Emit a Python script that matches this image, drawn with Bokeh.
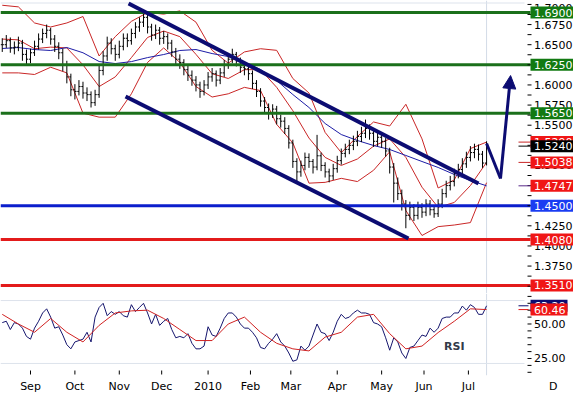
import pandas as pd
from bokeh.plotting import figure
from bokeh.models import (Range1d, FixedTicker, Span, Arrow, NormalHead, ColumnDataSource)
from bokeh.layouts import column
from bokeh.core.properties import value
from bokeh.embed import file_html
from bokeh.resources import INLINE

# ---------------- data (GBP/USD daily, sampled every 2nd business day) ----------------
close = [1.650, 1.655, 1.646, 1.647, 1.652, 1.638, 1.632, 1.640, 1.648, 1.657,
         1.664, 1.668, 1.657, 1.648, 1.640, 1.625, 1.610, 1.594, 1.592, 1.598,
         1.590, 1.588, 1.578, 1.588, 1.618, 1.636, 1.652, 1.645, 1.638, 1.648,
         1.658, 1.655, 1.664, 1.672, 1.678, 1.684, 1.672, 1.662, 1.668, 1.658,
         1.660, 1.652, 1.641, 1.632, 1.628, 1.619, 1.612, 1.606, 1.600, 1.592,
         1.600, 1.610, 1.614, 1.606, 1.615, 1.625, 1.632, 1.638, 1.630, 1.622,
         1.620, 1.614, 1.602, 1.592, 1.580, 1.572, 1.565, 1.570, 1.558, 1.555,
         1.546, 1.528, 1.505, 1.492, 1.500, 1.510, 1.505, 1.498, 1.512, 1.500,
         1.492, 1.487, 1.496, 1.506, 1.515, 1.520, 1.525, 1.530, 1.536, 1.540,
         1.546, 1.540, 1.530, 1.535, 1.530, 1.518, 1.498, 1.478, 1.465, 1.452,
         1.438, 1.448, 1.438, 1.448, 1.442, 1.452, 1.445, 1.440, 1.452, 1.465,
         1.475, 1.480, 1.490, 1.495, 1.502, 1.510, 1.516, 1.520, 1.514, 1.503,
         1.524]
high = [1.658, 1.662, 1.659, 1.654, 1.660, 1.656, 1.644, 1.645, 1.655, 1.664,
        1.670, 1.675, 1.671, 1.662, 1.653, 1.645, 1.630, 1.614, 1.601, 1.606,
        1.604, 1.597, 1.592, 1.594, 1.624, 1.642, 1.660, 1.658, 1.650, 1.655,
        1.664, 1.664, 1.670, 1.678, 1.684, 1.692, 1.688, 1.676, 1.675, 1.672,
        1.667, 1.664, 1.656, 1.646, 1.638, 1.632, 1.624, 1.618, 1.611, 1.604,
        1.606, 1.616, 1.621, 1.618, 1.621, 1.631, 1.638, 1.645, 1.641, 1.634,
        1.628, 1.625, 1.618, 1.606, 1.596, 1.585, 1.577, 1.576, 1.574, 1.563,
        1.560, 1.550, 1.532, 1.509, 1.506, 1.516, 1.515, 1.508, 1.538, 1.516,
        1.504, 1.496, 1.502, 1.512, 1.521, 1.527, 1.532, 1.537, 1.543, 1.548,
        1.557, 1.551, 1.544, 1.542, 1.540, 1.534, 1.522, 1.503, 1.485, 1.470,
        1.457, 1.455, 1.452, 1.455, 1.453, 1.458, 1.457, 1.450, 1.458, 1.471,
        1.481, 1.487, 1.496, 1.502, 1.509, 1.517, 1.524, 1.527, 1.526, 1.518,
        1.530]
low = [1.641, 1.646, 1.640, 1.638, 1.642, 1.630, 1.625, 1.627, 1.636, 1.644,
       1.652, 1.658, 1.650, 1.641, 1.632, 1.617, 1.602, 1.586, 1.582, 1.587,
       1.583, 1.580, 1.572, 1.574, 1.584, 1.612, 1.630, 1.638, 1.630, 1.633,
       1.643, 1.647, 1.650, 1.658, 1.666, 1.672, 1.664, 1.655, 1.657, 1.650,
       1.651, 1.644, 1.635, 1.626, 1.620, 1.612, 1.605, 1.599, 1.592, 1.584,
       1.587, 1.595, 1.604, 1.598, 1.601, 1.610, 1.620, 1.627, 1.623, 1.615,
       1.612, 1.606, 1.595, 1.585, 1.573, 1.565, 1.557, 1.559, 1.551, 1.547,
       1.539, 1.521, 1.497, 1.478, 1.486, 1.494, 1.497, 1.490, 1.494, 1.493,
       1.485, 1.479, 1.482, 1.491, 1.501, 1.510, 1.514, 1.519, 1.524, 1.529,
       1.534, 1.532, 1.523, 1.524, 1.522, 1.511, 1.490, 1.454, 1.457, 1.444,
       1.422, 1.432, 1.431, 1.433, 1.435, 1.437, 1.438, 1.435, 1.436, 1.447,
       1.460, 1.469, 1.474, 1.484, 1.489, 1.497, 1.505, 1.509, 1.506, 1.497,
       1.500]
rsi = [51, 52, 46, 51, 50, 47, 41, 39, 47, 52,
       58, 61, 55, 47, 48, 42, 35, 32, 37, 38,
       39, 44, 37, 55, 62, 65, 56, 59, 57, 59,
       56, 55, 64, 59, 62, 65, 58, 50, 57, 49,
       52, 54, 46, 40, 41, 40, 43, 36, 32, 32,
       34, 48, 42, 41, 47, 54, 58, 58, 55, 50,
       47, 47, 44, 40, 33, 32, 36, 39, 43, 37,
       34, 29, 23, 24, 34, 31, 34, 42, 50, 44,
       43, 38, 44, 52, 57, 54, 55, 58, 60, 58,
       58, 57, 51, 50, 48, 40, 31, 40, 37, 29,
       25, 33, 34, 38, 42, 41, 47, 44, 47, 54,
       55, 55, 58, 58, 63, 60, 64, 62, 57, 57,
       63.2]
# indicator lines read every 8th business day
bb_up = [1.699, 1.697, 1.677, 1.672, 1.677, 1.685, 1.636, 1.660, 1.679, 1.690,
         1.688, 1.692, 1.678, 1.643, 1.627, 1.641, 1.645, 1.643, 1.608, 1.590,
         1.541, 1.516, 1.536, 1.554, 1.549, 1.576, 1.533, 1.472, 1.482, 1.521,
         1.5290]
bb_mid = [1.657, 1.656, 1.645, 1.647, 1.646, 1.625, 1.598, 1.610, 1.634, 1.659,
          1.667, 1.660, 1.638, 1.614, 1.608, 1.619, 1.619, 1.597, 1.568, 1.534,
          1.510, 1.500, 1.508, 1.524, 1.533, 1.510, 1.473, 1.448, 1.454, 1.475,
          1.5038]
bb_low = [1.615, 1.615, 1.613, 1.622, 1.615, 1.565, 1.560, 1.560, 1.589, 1.628,
          1.646, 1.628, 1.598, 1.585, 1.589, 1.597, 1.593, 1.551, 1.528, 1.478,
          1.479, 1.484, 1.480, 1.494, 1.517, 1.444, 1.413, 1.424, 1.426, 1.429,
          1.4786]
ma_long = [1.6453, 1.6465, 1.6440, 1.6428, 1.6465, 1.6400, 1.6291, 1.6266, 1.6290, 1.6340,
           1.6378, 1.6428, 1.6440, 1.6390, 1.6353, 1.6279, 1.6192, 1.6055, 1.5881, 1.5720,
           1.5521, 1.5384, 1.5310, 1.5248, 1.5198, 1.5124, 1.5049, 1.4975, 1.4888, 1.4813,
           1.4747]
rsi_ma = [57, 50, 44, 54, 44, 37, 49, 58, 59.5, 60,
          54, 46, 38, 38, 50, 55, 44, 36, 32, 30.5,
          40.5, 44, 55, 57, 43, 32, 34, 43.8, 52, 61,
          60.46]

month_labels = ["Sep", "Oct", "Nov", "Dec", "2010", "Feb", "Mar", "Apr", "May", "Jun", "Jul"]
period_label = "D"
levels = [1.6900, 1.6250, 1.5650, 1.4500, 1.4080, 1.3510]
level_kind = ["res", "res", "res", "pivot", "sup", "sup"]
price_ticks = [1.350, 1.375, 1.400, 1.425, 1.450, 1.475, 1.500, 1.525,
               1.550, 1.575, 1.600, 1.625, 1.650, 1.675, 1.700]
rsi_ticks = [25, 50]
rsi_minor = [15, 20, 30, 35, 40, 45, 55, 60, 65, 70]

# trend channel and projection (business-day index, price)
chan_up_x, chan_up_y = [62.6, 236.0], [1.7012, 1.4776]
chan_lo_x, chan_lo_y = [61.1, 201.3], [1.5857, 1.4093]
proj_x, proj_y = [240.0, 246.9, 251.9], [1.5273, 1.4838, 1.6117]

# ---------------- styling ----------------
GREEN = "#1b701b"
GREEN_BOX = "#127a12"
RED = "#e31b1b"
RED_BOX = "#f01616"
BLUE = "#0b1ecc"
BLUE_BOX = "#1a3cf2"
NAVY = "#0c0c72"
BAND = "#c92626"
MA_NAVY = "#1c1ca6"
TODAY = "#d3dbe7"
BORDER = "#dde3ec"
FONT = "DejaVu Sans"
FONT_V = value(FONT)
kind_line = {"res": GREEN, "pivot": BLUE, "sup": RED}
kind_box = {"res": GREEN_BOX, "pivot": BLUE_BOX, "sup": RED_BOX}

n = len(close)
bar_x = [2 * i for i in range(n)]
band_x = [bar_x[4 * k] for k in range(len(bb_mid))]
dates = pd.bdate_range("2009-08-12", periods=bar_x[-1] + 1)
month_pos = [i for i in range(1, len(dates)) if dates[i].month != dates[i - 1].month]
opens = close[:1] + close[:-1]

# frame geometry: the frame spans the whole width; right strip holds the price scale
W, PLOT_W = 573, 524
X0, X1 = -0.87, 258.8                 # data area (0 .. 524 px)
PX = PLOT_W / (X1 - X0)               # px per business day
XE = X0 + W / PX                      # right end of frame (573 px)
P_LO, P_HI, P_H = 1.34093, 1.70491, 293
R_LO, R_HI, R_H = 12.68, 72.10, 82


def ax_x(px):
    """x coordinate in the scale strip, px pixels right of the data area"""
    return X1 + px / PX


def base_fig(h, ylo, yhi, x_range):
    f = figure(frame_width=W, frame_height=h, x_range=x_range,
               y_range=Range1d(ylo, yhi), toolbar_location=None, output_backend="svg",
               min_border_left=0, min_border_right=0, min_border_top=0, min_border_bottom=0,
               outline_line_color=None, background_fill_color="white", border_fill_color="white")
    f.grid.visible = False
    return f


def scale_strip(f, ticks, minor, fmt, top_limit):
    allt = sorted(ticks + minor)
    f.segment([ax_x(3)] * len(allt), allt, [ax_x(7)] * len(allt), allt,
              line_color="black", line_width=1)
    f.text([ax_x(9.5)] * len(ticks), [min(t, top_limit) for t in ticks],
           text=[fmt.format(t) for t in ticks],
           text_font=FONT_V, text_font_size="11px", text_color="black",
           text_baseline="middle", text_align="left")


def value_boxes(f, vals, texts, colors, width):
    for v, t, c in zip(vals, texts, colors):
        f.rect([ax_x(6) + width / 2 / PX], [v], width=width, height=12,
               width_units="screen", height_units="screen", fill_color=c,
               line_color=None)
        f.text([ax_x(9.5)], [v], text=[t], text_font=FONT_V,
               text_font_size="11px", text_color="white", text_baseline="middle",
               text_align="left")


# ---------------- price panel ----------------
p = base_fig(P_H, P_LO, P_HI, Range1d(X0, XE))
p.xaxis.visible = False
p.yaxis.visible = False
p_unit = P_H / (P_HI - P_LO)          # px per price unit

p.add_layout(Span(location=bar_x[-1], dimension="height", line_color=TODAY,
                  line_width=1, level="underlay"))
p.segment([X0], [1.7018], [X1], [1.7018], line_color=BORDER, line_width=1)

src = ColumnDataSource(dict(x=bar_x, o=opens, h=high, l=low, c=close,
                            xl=[x - 0.8 for x in bar_x], xr=[x + 0.8 for x in bar_x]))

p.line(band_x, bb_up, line_color=BAND, line_width=1)
p.line(band_x, bb_mid, line_color=BAND, line_width=1)
p.line(band_x, bb_low, line_color=BAND, line_width=1)
p.line(band_x, ma_long, line_color=MA_NAVY, line_width=1)

p.segment("x", "h", "x", "l", source=src, line_color="black", line_width=1)
p.segment("xl", "o", "x", "o", source=src, line_color="black", line_width=1)
p.segment("x", "c", "xr", "c", source=src, line_color="black", line_width=1)

p.segment([X0] * len(levels), levels, [ax_x(6)] * len(levels), levels,
          line_color=[kind_line[k] for k in level_kind], line_width=3)

p.line(chan_up_x, chan_up_y, line_color=NAVY, line_width=4)
p.line(chan_lo_x, chan_lo_y, line_color=NAVY, line_width=4)
p.line(proj_x[:2], proj_y[:2], line_color=NAVY, line_width=3)
p.add_layout(Arrow(end=NormalHead(size=13, fill_color=NAVY, line_color=NAVY),
                   x_start=proj_x[1], y_start=proj_y[1], x_end=proj_x[2], y_end=proj_y[2],
                   line_color=NAVY, line_width=3))

scale_strip(p, price_ticks, [t + 0.0125 for t in price_ticks[:-1]], "{:.4f}",
            P_HI - 7.5 / p_unit)

# last-value markers and boxes
mk = [(bb_up[-1], BAND, RED_BOX), (close[-1], "black", "black"),
      (bb_mid[-1], BAND, RED_BOX), (ma_long[-1], "#5a2a8a", RED_BOX)]
p.segment([ax_x(-6)] * len(mk), [m[0] for m in mk], [ax_x(6)] * len(mk), [m[0] for m in mk],
          line_color=[m[1] for m in mk], line_width=1)
value_boxes(p, levels, [f"{v:.4f}" for v in levels], [kind_box[k] for k in level_kind], 43)
value_boxes(p, [m[0] for m in mk], [f"{m[0]:.4f}" for m in mk], [m[2] for m in mk], 43)

# ---------------- RSI panel ----------------
r = base_fig(R_H, R_LO, R_HI, p.x_range)
r.yaxis.visible = False
xa = r.xaxis[0]
d_pos = round(ax_x(29))
xa.ticker = FixedTicker(ticks=month_pos + [d_pos], minor_ticks=[])
overrides = {pos: lab for pos, lab in zip(month_pos, month_labels)}
overrides[d_pos] = period_label
xa.major_label_overrides = overrides
xa.axis_line_color = None
xa.major_tick_line_color = None
xa.major_tick_in = 0
xa.major_tick_out = 0
xa.major_label_standoff = 4
xa.major_label_text_font = FONT
xa.major_label_text_font_size = "11px"
xa.major_label_text_color = "black"

r.add_layout(Span(location=bar_x[-1], dimension="height", line_color=TODAY,
                  line_width=1, level="underlay"))
r.segment([X0, X0], [67.0, 21.4], [X1, X1], [67.0, 21.4], line_color=BORDER, line_width=1)
# month tick marks under the panel
r.segment(month_pos, [16.3] * len(month_pos), month_pos, [13.4] * len(month_pos),
          line_color="black", line_width=1)

r.line(bar_x, rsi, line_color="#16166e", line_width=1)
r.line(band_x, rsi_ma, line_color="#d02222", line_width=1)

r.text([224], [33.7], text=["RSI"], text_font=FONT_V, text_font_size="11px",
       text_font_style="bold", text_color="#333a48", text_align="center",
       text_baseline="middle")

scale_strip(r, rsi_ticks, rsi_minor, "{:.2f}", R_HI)
rk = [(rsi[-1], NAVY, NAVY), (rsi_ma[-1], RED, RED_BOX)]
r.segment([ax_x(-6)] * 2, [m[0] for m in rk], [ax_x(4)] * 2, [m[0] for m in rk],
          line_color=[m[1] for m in rk], line_width=1)
value_boxes(r, [m[0] for m in rk], [f"{m[0]:.2f}" for m in rk], [m[2] for m in rk], 37)

layout = column(p, r)
open("out.html", "w").write(file_html(layout, INLINE))
